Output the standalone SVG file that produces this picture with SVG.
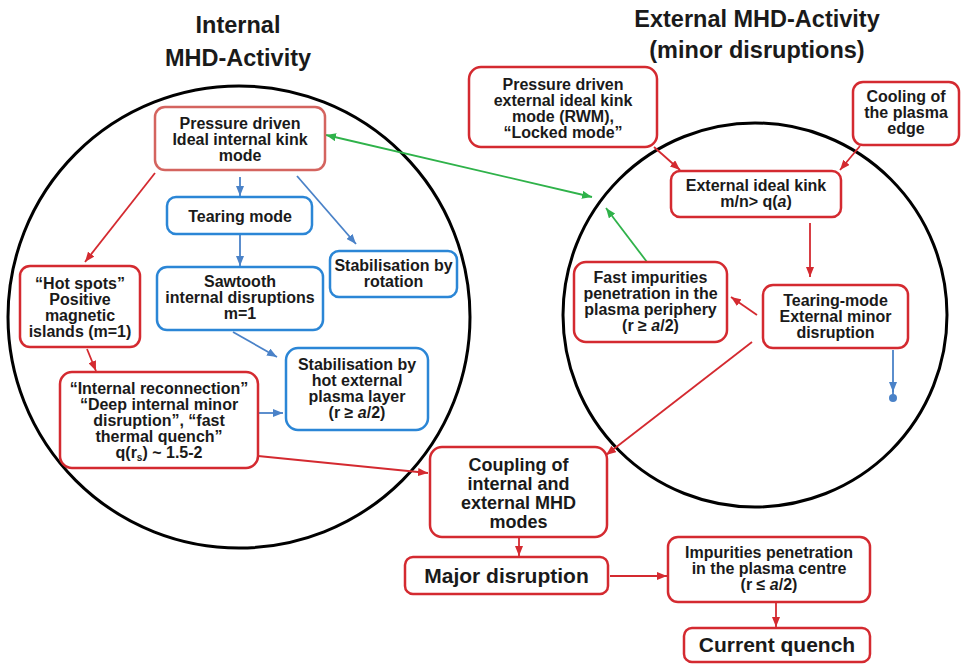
<svg xmlns="http://www.w3.org/2000/svg" width="962" height="664" viewBox="0 0 962 664">
<style>
.bg{fill:#ffffff}
.ring{fill:none;stroke:#000;stroke-width:3}
.title{font-family:"Liberation Sans",Arial,sans-serif;font-weight:bold;font-size:23.5px;fill:#1a1a1a;text-anchor:middle}
.t{font-family:"Liberation Sans",Arial,sans-serif;font-weight:bold;font-size:16px;fill:#1a1a1a;text-anchor:middle}
.tm{font-family:"Liberation Sans",Arial,sans-serif;font-weight:bold;font-size:18px;fill:#1a1a1a;text-anchor:middle}
.tl{font-family:"Liberation Sans",Arial,sans-serif;font-weight:bold;font-size:21px;fill:#1a1a1a;text-anchor:middle}
.rb{fill:#fff;stroke:#d42a30;stroke-width:2.5}
.rbl{fill:#fff;stroke:#d4645f;stroke-width:2.5}
.bb{fill:#fff;stroke:#2b86d6;stroke-width:2.5}
.cr{fill:none;stroke:#d42a30;stroke-width:1.8}
.cb{fill:none;stroke:#4a82c8;stroke-width:1.8}
.cg{fill:none;stroke:#2fb24a;stroke-width:1.8}
.it{font-style:italic}
</style>
<defs>
<marker id="ar" markerUnits="userSpaceOnUse" markerWidth="10" markerHeight="8" refX="10" refY="4" orient="auto"><path d="M0,0 L10,4 L0,8 z" fill="#d42a30"/></marker>
<marker id="ab" markerUnits="userSpaceOnUse" markerWidth="10" markerHeight="8" refX="10" refY="4" orient="auto"><path d="M0,0 L10,4 L0,8 z" fill="#4a82c8"/></marker>
<marker id="ag" markerUnits="userSpaceOnUse" markerWidth="10" markerHeight="8" refX="10" refY="4" orient="auto-start-reverse"><path d="M0,0 L10,4 L0,8 z" fill="#2fb24a"/></marker>
</defs>
<rect class="bg" x="0" y="0" width="962" height="664"/>

<g id="titles">
<text class="title" x="238" y="33">Internal</text>
<text class="title" x="238" y="66">MHD-Activity</text>
<text class="title" x="757" y="27">External MHD-Activity</text>
<text class="title" x="757" y="58">(minor disruptions)</text>
</g>

<g id="regions">
<circle class="ring" cx="239" cy="317" r="231"/>
<circle class="ring" cx="755" cy="315" r="192"/>
</g>

<g id="connectors">
<line class="cr" x1="155" y1="173" x2="85" y2="262" marker-end="url(#ar)"/>
<line class="cr" x1="87" y1="349" x2="96" y2="371" marker-end="url(#ar)"/>
<line class="cr" x1="258" y1="456" x2="428" y2="473" marker-end="url(#ar)"/>
<line class="cr" x1="654" y1="147" x2="680" y2="170" marker-end="url(#ar)"/>
<line class="cr" x1="860" y1="146" x2="840" y2="170" marker-end="url(#ar)"/>
<line class="cr" x1="810" y1="223" x2="810" y2="277" marker-end="url(#ar)"/>
<line class="cr" x1="757" y1="315" x2="731" y2="297" marker-end="url(#ar)"/>
<line class="cr" x1="752" y1="342" x2="606" y2="455" marker-end="url(#ar)"/>
<line class="cr" x1="519" y1="538" x2="519" y2="556" marker-end="url(#ar)"/>
<line class="cr" x1="610" y1="576" x2="667" y2="576" marker-end="url(#ar)"/>
<line class="cr" x1="776" y1="603" x2="776" y2="627" marker-end="url(#ar)"/>
<line class="cb" x1="240" y1="177" x2="240" y2="196" marker-end="url(#ab)"/>
<line class="cb" x1="240" y1="235" x2="240" y2="266" marker-end="url(#ab)"/>
<line class="cb" x1="297" y1="176" x2="356" y2="244" marker-end="url(#ab)"/>
<line class="cb" x1="233" y1="332" x2="277" y2="357" marker-end="url(#ab)"/>
<line class="cb" x1="259" y1="413" x2="283" y2="413" marker-end="url(#ab)"/>
<line class="cb" x1="893" y1="350" x2="893" y2="392" marker-end="url(#ab)"/>
<line class="cb" x1="893" y1="390" x2="893" y2="398"/>
<circle cx="893" cy="398" r="4" fill="#4a82c8"/>
<line class="cg" x1="326" y1="135" x2="592" y2="197" marker-start="url(#ag)" marker-end="url(#ag)"/>
<line class="cg" x1="647" y1="262" x2="606" y2="208" marker-end="url(#ag)"/>
</g>

<g id="n-internal-kink">
<rect class="rbl" x="155" y="107" width="170" height="63" rx="10"/>
<text class="t" x="240" y="128.5">Pressure driven</text>
<text class="t" x="240" y="144.5">Ideal internal kink</text>
<text class="t" x="240" y="160.5">mode</text>
</g>
<g id="n-tearing">
<rect class="bb" x="167" y="197" width="145" height="37" rx="9"/>
<text class="t" x="240" y="222">Tearing mode</text>
</g>
<g id="n-sawtooth">
<rect class="bb" x="157" y="267" width="166" height="63" rx="10"/>
<text class="t" x="240" y="287">Sawtooth</text>
<text class="t" x="240" y="303">internal disruptions</text>
<text class="t" x="240" y="319">m=1</text>
</g>
<g id="n-stab-rotation">
<rect class="bb" x="330" y="251" width="127" height="46" rx="9"/>
<text class="t" x="393.5" y="270.5">Stabilisation by</text>
<text class="t" x="393.5" y="286.5">rotation</text>
</g>
<g id="n-hot-spots">
<rect class="rb" x="20" y="266" width="120" height="81" rx="10"/>
<text class="t" x="80" y="288.5">“Hot spots”</text>
<text class="t" x="80" y="304.5">Positive</text>
<text class="t" x="80" y="320.5">magnetic</text>
<text class="t" x="80" y="336.5">islands (m=1)</text>
</g>
<g id="n-internal-reconnection">
<rect class="rb" x="60" y="372" width="198" height="96" rx="12"/>
<text class="t" x="159" y="393.5">“Internal reconnection”</text>
<text class="t" x="159" y="409.5">“Deep internal minor</text>
<text class="t" x="159" y="425.5">disruption”, “fast</text>
<text class="t" x="159" y="441.5">thermal quench”</text>
<text class="t" x="159" y="457.5">q(r<tspan font-size="10" dy="3">s</tspan><tspan dy="-3">) ~ 1.5-2</tspan></text>
</g>
<g id="n-stab-hot-layer">
<rect class="bb" x="286" y="348" width="142" height="82" rx="12"/>
<text class="t" x="357" y="370">Stabilisation by</text>
<text class="t" x="357" y="386">hot external</text>
<text class="t" x="357" y="402">plasma layer</text>
<text class="t" x="357" y="418">(r ≥ <tspan class="it">a</tspan>/2)</text>
</g>
<g id="n-rwm">
<rect class="rb" x="469" y="67" width="188" height="80" rx="12"/>
<text class="t" x="563" y="89.5">Pressure driven</text>
<text class="t" x="563" y="105.5">external ideal kink</text>
<text class="t" x="563" y="121.5">mode (RWM),</text>
<text class="t" x="563" y="137.5">“Locked mode”</text>
</g>
<g id="n-cooling">
<rect class="rb" x="853" y="82" width="106" height="63" rx="10"/>
<text class="t" x="906" y="101.5">Cooling of</text>
<text class="t" x="906" y="117.5">the plasma</text>
<text class="t" x="906" y="133.5">edge</text>
</g>
<g id="n-external-kink">
<rect class="rb" x="671" y="171" width="170" height="46" rx="9"/>
<text class="t" x="756" y="190.5">External ideal kink</text>
<text class="t" x="756" y="206.5">m/n&gt; q(<tspan class="it">a</tspan>)</text>
</g>
<g id="n-tearing-external">
<rect class="rb" x="763" y="285" width="145" height="63" rx="10"/>
<text class="t" x="835.5" y="306">Tearing-mode</text>
<text class="t" x="835.5" y="322">External minor</text>
<text class="t" x="835.5" y="338">disruption</text>
</g>
<g id="n-fast-impurities">
<rect class="rb" x="574" y="262" width="153" height="80" rx="12"/>
<text class="t" x="650.5" y="282.5">Fast impurities</text>
<text class="t" x="650.5" y="298.5">penetration in the</text>
<text class="t" x="650.5" y="314.5">plasma periphery</text>
<text class="t" x="650.5" y="330.5">(r ≥ <tspan class="it">a</tspan>/2)</text>
</g>
<g id="n-coupling">
<rect class="rb" x="430" y="447" width="177" height="90" rx="12"/>
<text class="tm" x="518.5" y="471">Coupling of</text>
<text class="tm" x="518.5" y="490">internal and</text>
<text class="tm" x="518.5" y="509">external MHD</text>
<text class="tm" x="518.5" y="528">modes</text>
</g>
<g id="n-major">
<rect class="rb" x="405" y="557" width="203" height="37" rx="8"/>
<text class="tl" x="506.5" y="583">Major disruption</text>
</g>
<g id="n-impurities-centre">
<rect class="rb" x="668" y="537" width="202" height="65" rx="10"/>
<text class="t" x="769" y="558">Impurities penetration</text>
<text class="t" x="769" y="574">in the plasma centre</text>
<text class="t" x="769" y="590">(r ≤ <tspan class="it">a</tspan>/2)</text>
</g>
<g id="n-current-quench">
<rect class="rb" x="684" y="628" width="186" height="34" rx="8"/>
<text class="tl" x="777" y="652">Current quench</text>
</g>
</svg>
